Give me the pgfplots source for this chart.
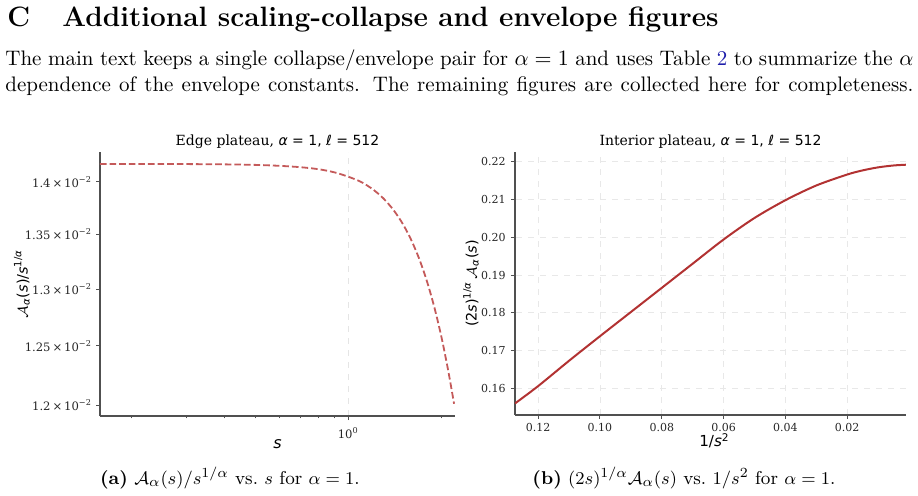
\documentclass[border=0pt]{standalone}
\usepackage{fontspec}
\usepackage{pgfplots}
\pgfplotsset{compat=1.18}
\newfontfamily\dvserif{DejaVu Serif}
\newfontfamily\dvsans{DejaVu Sans}
\definecolor{edgecol}{RGB}{196,90,90}
\definecolor{intcol}{RGB}{178,50,50}
\definecolor{linkblue}{RGB}{30,30,170}
\definecolor{spinecol}{RGB}{80,80,80}
\definecolor{tickcol}{RGB}{38,38,38}
\begin{document}
\begin{tikzpicture}
% ---- heading and paragraph ----
\node[anchor=base west, inner sep=0] at (3.5pt,-13.5pt) {\fontsize{14}{16}\selectfont\bfseries C};
\node[anchor=base west, inner sep=0] at (31pt,-13.5pt) {\fontsize{14}{16}\selectfont\bfseries Additional scaling-collapse and envelope figures};
\node[anchor=base west, inner sep=0] at (2.5pt,-33pt) {\fontsize{10.5}{13}\selectfont\makebox[454pt][s]{The main text keeps a single collapse/envelope pair for $\alpha=1$ and uses Table \textcolor{linkblue}{2} to summarize the $\alpha$}};
\node[anchor=base west, inner sep=0] at (2.5pt,-46pt) {\fontsize{10.5}{13}\selectfont\makebox[454pt][s]{dependence of the envelope constants. The remaining figures are collected here for completeness.}};

% ---- left axis ----
\begin{axis}[
  at={(50pt,-208pt)}, anchor=south west,
  scale only axis, width=177.5pt, height=132pt,
  xmode=log, ymode=log,
  xmin=0.158, xmax=2.21, ymin=0.011909, ymax=0.014289,
  axis x line*=bottom, axis y line*=left,
  axis line style={-, spinecol, line width=0.6pt},
  tick align=outside, major tick length=2pt, minor tick length=1.2pt,
  tick style={spinecol, line width=0.5pt},
  xtick={1}, xticklabels={10\textsuperscript{0}},
  minor xtick={0.2,0.3,0.4,0.5,0.6,0.7,0.8,0.9,2},
  ytick={0.012,0.0125,0.013,0.0135,0.014},
  yticklabels={1.2\,×\,10\textsuperscript{−2},1.25\,×\,10\textsuperscript{−2},1.3\,×\,10\textsuperscript{−2},1.35\,×\,10\textsuperscript{−2},1.4\,×\,10\textsuperscript{−2}},
  ticklabel style={font=\dvserif\fontsize{5.8}{6}\selectfont, text=tickcol},
  yticklabel style={xshift=1.5pt},
  xmajorgrids, major grid style={black!10, dashed, line width=0.4pt},
  ylabel={$\mathcal{A}$\textsubscript{\textit{α}}(\textit{s})/\textit{s}\textsuperscript{1/\textit{α}}},
  ylabel style={font=\dvsans\fontsize{7.2}{8}\selectfont, at={(axis description cs:-0.22,0.5)}, anchor=center, rotate=0},
]
\addplot[edgecol, line width=0.9pt, dash pattern=on 3.3pt off 1.5pt, smooth] coordinates {
(0.158,0.014172) (0.2,0.014172) (0.3,0.014171) (0.4,0.014168) (0.5,0.014163)
(0.6,0.014154) (0.7,0.014141) (0.8,0.014121) (0.9,0.014091) (1.0,0.014048)
(1.1,0.013997) (1.2,0.013926) (1.3,0.013837) (1.4,0.013728) (1.5,0.013597)
(1.6,0.013442) (1.7,0.013262) (1.8,0.013057) (1.9,0.012827) (2.0,0.012572)
(2.1,0.012292) (2.195,0.012010)
};
\end{axis}

% ---- right axis ----
\begin{axis}[
  at={(257.5pt,-207.5pt)}, anchor=south west,
  scale only axis, width=195.5pt, height=131.5pt,
  x dir=reverse,
  xmin=0.00097, xmax=0.1275, ymin=0.15294, ymax=0.22257,
  axis x line*=bottom, axis y line*=left,
  axis line style={-, spinecol, line width=0.6pt},
  tick align=outside, major tick length=2pt,
  tick style={spinecol, line width=0.5pt},
  xtick={0.02,0.04,0.06,0.08,0.10,0.12},
  xticklabels={0.02,0.04,0.06,0.08,0.10,0.12},
  ytick={0.16,0.17,0.18,0.19,0.20,0.21,0.22},
  yticklabels={0.16,0.17,0.18,0.19,0.20,0.21,0.22},
  ticklabel style={font=\dvserif\fontsize{5.5}{6}\selectfont, text=tickcol},
  yticklabel style={xshift=0.8pt},
  xticklabel style={yshift=1.3pt},
  grid=major, major grid style={black!9, dashed, line width=0.4pt},
  ylabel={(2\textit{s})\textsuperscript{1/\textit{α}}\,$\mathcal{A}$\textsubscript{\textit{α}}(\textit{s})},
  ylabel style={font=\dvsans\fontsize{7.2}{8}\selectfont, at={(axis description cs:-0.1125,0.5)}, anchor=center, rotate=0},
]
\addplot[intcol, line width=1pt, smooth] coordinates {
(0.1275,0.1560) (0.12,0.1606) (0.11,0.1673) (0.10,0.1738) (0.09,0.1802)
(0.08,0.1866) (0.07,0.1930) (0.06,0.1994) (0.05,0.2051) (0.04,0.2098)
(0.03,0.2137) (0.02,0.2166) (0.015,0.2177) (0.01,0.2185) (0.005,0.2190)
(0.00097,0.2192)
};
\end{axis}

% ---- titles and x labels ----
\node[anchor=base, inner sep=0, font=\fontsize{7}{8}\selectfont] at (138.75pt,-73pt) {{\dvserif Edge plateau, }{\dvsans\textit{α} = 1, ℓ = 512}};
\node[anchor=base, inner sep=0, font=\fontsize{7}{8}\selectfont] at (355.25pt,-73pt) {{\dvserif Interior plateau, }{\dvsans\textit{α} = 1, ℓ = 512}};
\node[anchor=base, inner sep=0, font=\dvsans\fontsize{8}{9}\selectfont] at (138.75pt,-224.5pt) {\textit{s}};
\node[anchor=base, inner sep=0, font=\dvsans\fontsize{7.6}{9}\selectfont] at (357pt,-223.3pt) {1/\textit{s}\raisebox{0.62ex}{\fontsize{5.3}{6}\selectfont 2}};

% ---- captions ----
\node[anchor=base, inner sep=0] at (115pt,-242.5pt) {\fontsize{9.3}{11}\selectfont\textbf{(a)} $\mathcal{A}_\alpha(s)/s^{1/\alpha}$ vs.\ $s$ for $\alpha=1$.};
\node[anchor=base, inner sep=0] at (342pt,-242.5pt) {\fontsize{9.3}{11}\selectfont\textbf{(b)} $(2s)^{1/\alpha}\mathcal{A}_\alpha(s)$ vs.\ $1/s^2$ for $\alpha=1$.};

\pgfresetboundingbox
\useasboundingbox (0,0) rectangle (459pt,-248pt);
\end{tikzpicture}
\end{document}
